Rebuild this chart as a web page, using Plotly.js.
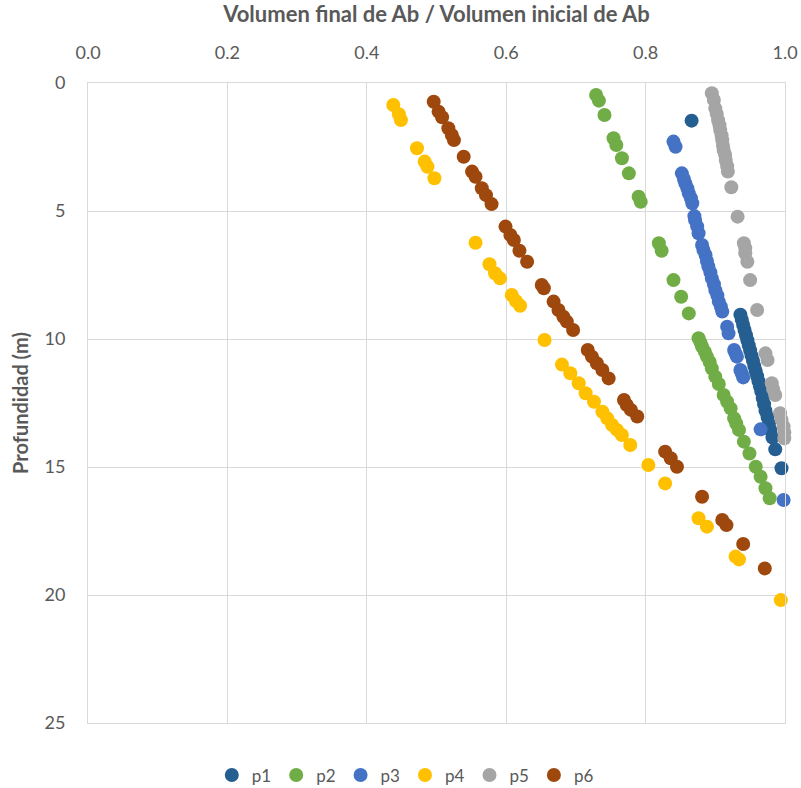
<!DOCTYPE html>
<html><head><meta charset="utf-8">
<script src="https://cdn.plot.ly/plotly-3.0.1.min.js"></script>
<style>html,body{margin:0;padding:0;background:#fff;}#chart{width:801px;height:788px;}</style>
</head><body><div id="chart"></div>
<script>
const seriesNames = ["p1","p2","p3","p4","p5","p6"];
const seriesColors = ["#255E91","#70AD47","#4472C4","#FFC000","#A5A5A5","#9E480E"];

const p1_x = [0.866,0.936,0.938,0.940,0.942,0.944,0.946,0.948,0.950,0.952,0.954,0.956,0.958,0.960,0.962,0.964,0.966,0.968,0.970,0.972,0.975,0.977,0.979,0.982,0.986,0.995];
const p1_y = [1.47,9.05,9.25,9.45,9.65,9.85,10.05,10.25,10.45,10.65,10.85,11.05,11.25,11.45,11.65,11.85,12.05,12.3,12.55,12.8,13.05,13.3,13.55,13.85,14.31,15.05];

const p2_x = [0.729,0.733,0.741,0.754,0.758,0.766,0.776,0.790,0.793,0.819,0.823,0.840,0.851,0.862,0.876,0.879,0.881,0.885,0.888,0.892,0.895,0.900,0.905,0.912,0.917,0.922,0.927,0.930,0.934,0.941,0.949,0.958,0.965,0.972,0.978];
const p2_y = [0.47,0.69,1.25,2.16,2.42,2.94,3.53,4.44,4.64,6.26,6.55,7.70,8.35,9.00,9.97,10.15,10.30,10.5,10.69,10.9,11.15,11.47,11.76,12.19,12.45,12.71,13.1,13.3,13.55,14.01,14.47,14.99,15.38,15.83,16.22];

const p3_x = [0.840,0.843,0.852,0.855,0.857,0.860,0.862,0.865,0.867,0.870,0.871,0.874,0.876,0.881,0.883,0.886,0.888,0.890,0.893,0.895,0.898,0.900,0.903,0.905,0.908,0.910,0.917,0.919,0.927,0.929,0.931,0.936,0.938,0.940,0.965,0.998];
const p3_y = [2.29,2.49,3.53,3.75,3.92,4.12,4.31,4.5,4.70,5.2,5.35,5.6,5.87,6.33,6.52,6.72,6.95,7.17,7.4,7.63,7.86,8.09,8.3,8.54,8.74,8.93,9.52,9.78,10.43,10.56,10.69,11.21,11.35,11.50,13.53,16.29];

const p4_x = [0.438,0.446,0.449,0.472,0.483,0.487,0.497,0.556,0.576,0.584,0.591,0.608,0.614,0.620,0.655,0.680,0.692,0.704,0.714,0.726,0.738,0.745,0.752,0.759,0.766,0.778,0.804,0.828,0.876,0.888,0.929,0.934,0.994];
const p4_y = [0.86,1.22,1.45,2.55,3.07,3.27,3.72,6.24,7.08,7.43,7.63,8.28,8.52,8.70,10.04,11.0,11.34,11.73,12.12,12.45,12.84,13.10,13.36,13.55,13.75,14.14,14.92,15.64,17.00,17.33,18.50,18.61,20.20];

const p5_x = [0.895,0.898,0.900,0.902,0.904,0.906,0.907,0.909,0.910,0.911,0.912,0.914,0.915,0.917,0.918,0.923,0.932,0.941,0.943,0.943,0.946,0.950,0.960,0.972,0.975,0.981,0.983,0.986,0.993,0.995,0.998,0.999,0.999];
const p5_y = [0.40,0.66,0.99,1.2,1.45,1.65,1.84,2.05,2.23,2.45,2.62,2.8,3.01,3.25,3.46,4.07,5.22,6.26,6.45,6.65,6.98,7.70,8.87,10.56,10.82,11.73,11.95,12.19,12.90,13.15,13.42,13.65,13.88];

const p6_x = [0.496,0.503,0.508,0.517,0.522,0.525,0.539,0.551,0.556,0.565,0.571,0.579,0.599,0.606,0.611,0.619,0.630,0.651,0.654,0.668,0.675,0.682,0.687,0.696,0.717,0.723,0.730,0.738,0.747,0.769,0.773,0.779,0.788,0.828,0.836,0.845,0.881,0.910,0.916,0.940,0.971];
const p6_y = [0.73,1.12,1.34,1.77,2.03,2.23,2.88,3.46,3.66,4.11,4.38,4.73,5.61,5.94,6.13,6.55,6.98,7.89,8.02,8.54,8.87,9.13,9.32,9.65,10.43,10.69,10.95,11.21,11.54,12.38,12.58,12.77,13.03,14.40,14.66,14.99,16.16,17.07,17.27,18.01,18.96];

const xs = [p1_x,p2_x,p3_x,p4_x,p5_x,p6_x];
const ys = [p1_y,p2_y,p3_y,p4_y,p5_y,p6_y];

const xTitle = "Volumen final de Ab / Volumen inicial de Ab";
const yTitle = "Profundidad (m)";

const traces = seriesNames.map((n,i)=>({
  type:'scatter', mode:'markers', name:n, x:xs[i], y:ys[i],
  marker:{color:seriesColors[i], size:14, line:{width:0}},
  cliponaxis:false
}));

const txt = '#595959';
const grid = '#D9D9D9';
const layout = {
  width:801, height:788,
  margin:{l:88, r:16, t:83, b:65, autoexpand:false},
  paper_bgcolor:'#fff', plot_bgcolor:'#fff',
  font:{family:'Lato, "Open Sans", sans-serif', size:18, color:txt},
  showlegend:true,
  legend:{orientation:'h', x:0.506, xref:'container', xanchor:'center', yref:'container', y:0.016, yanchor:'middle',
          font:{size:17, color:txt}, itemwidth:30, tracegroupgap:0},
  xaxis:{side:'top', range:[0,1], dtick:0.2, tick0:0, tickformat:'.1f', automargin:false,
         showgrid:true, gridcolor:grid, gridwidth:1, zeroline:false,
         showline:true, linecolor:grid, linewidth:1, mirror:true,
         ticks:'', ticklabelstandoff:16, tickfont:{size:18, color:txt},
         title:{text:'<b>'+xTitle+'</b>', font:{size:22, color:txt}, standoff:14}},
  yaxis:{range:[25,0], dtick:5, tick0:0, automargin:false,
         showgrid:true, gridcolor:grid, gridwidth:1, zeroline:false,
         showline:true, linecolor:grid, linewidth:1, mirror:true,
         ticks:'', ticklabelstandoff:18, tickfont:{size:18, color:txt},
         title:{text:'<b>'+yTitle+'</b>', font:{size:20, color:txt}, standoff:10}}
};
Plotly.newPlot('chart', traces, layout, {displayModeBar:false, staticPlot:true});
</script></body></html>
